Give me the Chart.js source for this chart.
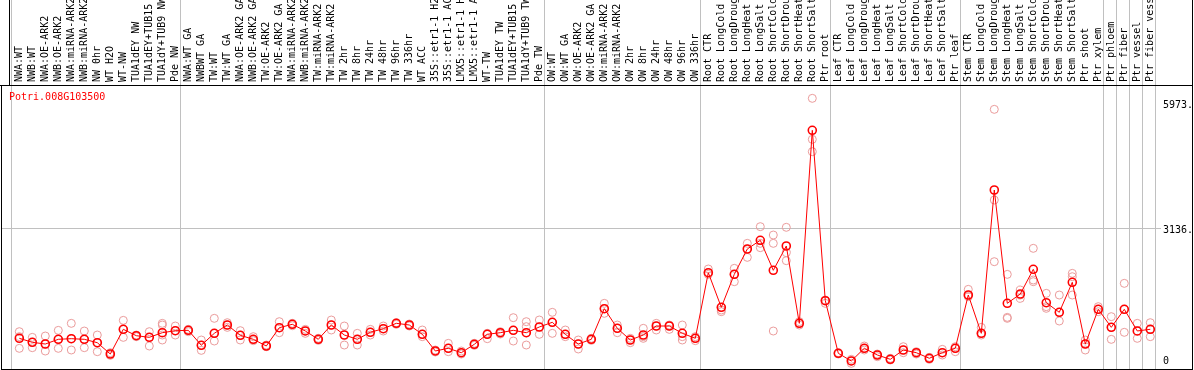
<!DOCTYPE html>
<html><head><meta charset="utf-8">
<script src="https://cdn.jsdelivr.net/npm/chart.js@4/dist/chart.umd.min.js"></script>
<style>html,body{margin:0;padding:0;background:#fff;overflow:hidden}canvas{display:block}</style>
</head><body>
<canvas id="c" width="1194" height="370"></canvas>
<script>
const title = 'Potri.008G103500';
const categories = [
 'NWA:WT','NWB:WT','NWA:OE-ARK2','NWB:OE-ARK2','NWA:miRNA-ARK2','NWB:miRNA-ARK2','NW 0hr','WT H2O','WT-NW','TUA1dEY NW',
 'TUA1dEY+TUB15','TUA1dY+TUB9 NW','Pde NW','NWA:WT GA','NWBWT GA','TW:WT','TW:WT GA','NWA:OE-ARK2 GA','NWB:OE-ARK2 GA','TW:OE-ARK2',
 'TW:OE-ARK2 GA','NWA:miRNA-ARK2','NWB:miRNA-ARK2','TW:miRNA-ARK2','TW:miRNA-ARK2','TW 2hr','TW 8hr','TW 24hr','TW 48hr','TW 96hr',
 'TW 336hr','WT ACC','35S::etr1-1 H2O','35S::etr1-1 ACC','LMX5::etr1-1 H2O','LMX5::etr1-1 ACC','WT-TW','TUA1dEY TW','TUA1dEY+TUB15','TUA1dY+TUB9 TW',
 'Pde TW','OW:WT','OW:WT GA','OW:OE-ARK2','OW:OE-ARK2 GA','OW:miRNA-ARK2','OW:miRNA-ARK2','OW 2hr','OW 8hr','OW 24hr',
 'OW 48hr','OW 96hr','OW 336hr','Root CTR','Root LongCold','Root LongDrought','Root LongHeat','Root LongSalt','Root ShortCold','Root ShortDrought',
 'Root ShortHeat','Root ShortSalt','Ptr root','Leaf CTR','Leaf LongCold','Leaf LongDrought','Leaf LongHeat','Leaf LongSalt','Leaf ShortCold','Leaf ShortDrought',
 'Leaf ShortHeat','Leaf ShortSalt','Ptr leaf','Stem CTR','Stem LongCold','Stem LongDrought','Stem LongHeat','Stem LongSalt','Stem ShortCold','Stem ShortDrought',
 'Stem ShortHeat','Stem ShortSalt','Ptr shoot','Ptr xylem','Ptr phloem','Ptr fiber','Ptr vessel','Ptr fiber vessel'
];
const groupStarts = [0,13,41,53,63,73,84,85,86,87,88];
const means = [
 629,538,499,606,620,606,529,272,833,688,
 651,756,801,810,470,742,931,697,606,454,
 869,947,795,606,931,704,606,765,847,969,
 931,720,341,402,302,493,720,756,810,756,
 885,992,720,499,606,1301,856,590,704,908,
 908,742,629,2118,1332,2082,2656,2853,2172,2724,
 969,5350,1482,288,114,402,250,152,363,302,
 175,302,402,1612,742,3995,1423,1634,2195,1437,
 1219,1900,499,1287,878,1287,795,833
];
const rep1 = [
 779,650,681,809,968,794,703,302,1036,703,
 779,968,908,832,590,1082,983,802,666,476,
 1006,968,832,628,1044,908,741,832,908,983,
 953,817,363,514,340,514,741,779,1097,1006,
 1044,1218,817,590,628,1422,930,628,855,968,
 930,930,666,2202,1331,2217,2784,3163,2973,3148,
 1006,6076,1498,302,151,454,272,174,438,325,
 196,378,438,1740,877,5826,2080,1725,2671,1649,
 1611,2103,590,1347,1120,1876,968,983
];
const rep2 = [
 666,537,499,605,620,605,529,272,832,688,
 650,703,802,809,469,741,930,696,605,454,
 870,946,794,605,930,703,605,764,847,968,
 930,719,340,401,302,492,719,756,809,893,
 885,991,719,499,605,1301,855,590,666,908,
 908,666,628,2118,1271,2080,2656,2784,2784,2572,
 968,5145,1483,287,113,401,249,151,363,302,
 174,302,401,1611,741,3768,1104,1611,1952,1347,
 1218,2027,499,1286,877,1286,794,832
];
const rep3 = [
 401,416,340,401,363,416,325,242,650,666,
 454,590,703,779,355,567,877,590,575,439,
 756,915,741,582,817,476,476,703,794,946,
 908,666,318,325,272,469,620,726,567,756,
 719,741,666,386,582,1195,756,529,628,817,
 832,590,575,2080,1233,1914,2466,2686,794,2391,
 930,4865,1422,272,60,363,212,136,302,272,
 151,249,325,1574,703,2368,1082,1536,1914,1309,
 1021,1611,363,1233,605,764,628,666
];
const rep4Extra = {11: 930, 39: 476};
const yTickValues = [0, 3136, 5973];
const yTickLabels = ['0', '3136.', '5973.'];
const gridValue = 3136;

const FONT = '10px "DejaVu Sans Mono", "Liberation Mono", monospace';

const repPoints = [];
[rep1, rep2, rep3].forEach(arr => arr.forEach((v, i) => { if (v != null) repPoints.push({x: i, y: v}); }));
Object.keys(rep4Extra).forEach(k => repPoints.push({x: +k, y: rep4Extra[k]}));

const framePlugin = {
  id: 'frame',
  beforeDraw(chart) {
    const ctx = chart.ctx, a = chart.chartArea, xs = chart.scales.x, ys = chart.scales.y;
    ctx.save();
    ctx.fillStyle = '#fff';
    ctx.fillRect(0, 0, chart.width, chart.height);
    ctx.fillStyle = '#c0c0c0';
    groupStarts.forEach(b => {
      const px = Math.round(xs.getPixelForValue(b) - 8);
      ctx.fillRect(px, 0, 1, a.bottom);
    });
    const gy = Math.round(ys.getPixelForValue(gridValue));
    ctx.fillRect(a.left, gy, 1161 - a.left, 1);
    ctx.restore();
  },
  afterDraw(chart) {
    const ctx = chart.ctx, a = chart.chartArea, xs = chart.scales.x, ys = chart.scales.y;
    ctx.save();
    ctx.fillStyle = '#000';
    ctx.fillRect(0, a.top, chart.width - 1, 1);
    ctx.fillRect(a.left, a.top, 1, a.bottom - a.top + 1);
    ctx.fillRect(a.left, a.bottom, a.right - a.left, 1);
    ctx.fillRect(a.right, 0, 1, chart.height);
    ctx.fillRect(9, 0, 1, a.top);
    ctx.font = FONT;
    ctx.fillStyle = '#000';
    ctx.textAlign = 'left';
    ctx.textBaseline = 'middle';
    categories.forEach((c, i) => {
      const x = xs.getPixelForValue(i);
      ctx.save();
      ctx.translate(x, a.top - 3);
      ctx.rotate(-Math.PI / 2);
      ctx.fillText(c, 0, 0);
      ctx.restore();
    });
    ctx.fillStyle = '#ff0000';
    ctx.textBaseline = 'top';
    ctx.fillText(title, 9, a.top + 7);
    ctx.fillStyle = '#000';
    yTickValues.forEach((v, k) => {
      const y = Math.min(ys.getPixelForValue(v) - 2, a.bottom - 13);
      ctx.fillText(yTickLabels[k], 1163, y);
    });
    ctx.restore();
  }
};

new Chart(document.getElementById('c'), {
  type: 'scatter',
  data: {
    datasets: [
      {
        label: 'mean',
        data: means.map((v, i) => ({x: i, y: v})),
        showLine: true,
        borderColor: '#ff0000',
        borderWidth: 1,
        pointRadius: 4,
        pointBorderWidth: 1.6,
        pointBorderColor: '#ff0000',
        pointBackgroundColor: 'rgba(0,0,0,0)',
        order: 0
      },
      {
        label: 'replicates',
        data: repPoints,
        showLine: false,
        pointRadius: 4,
        pointBorderWidth: 1,
        pointBorderColor: '#eb9c9c',
        pointBackgroundColor: 'rgba(0,0,0,0)',
        order: 1
      }
    ]
  },
  options: {
    responsive: false,
    animation: false,
    devicePixelRatio: 1,
    layout: {autoPadding: false, padding: {top: 85, left: 1, right: 2, bottom: 1}},
    scales: {
      x: {type: 'linear', display: false, min: -1.4077, max: 90.208},
      y: {type: 'linear', display: false, min: -68.1, max: 6378.7}
    },
    plugins: {legend: {display: false}, tooltip: {enabled: false}}
  },
  plugins: [framePlugin]
});
</script>
</body></html>
